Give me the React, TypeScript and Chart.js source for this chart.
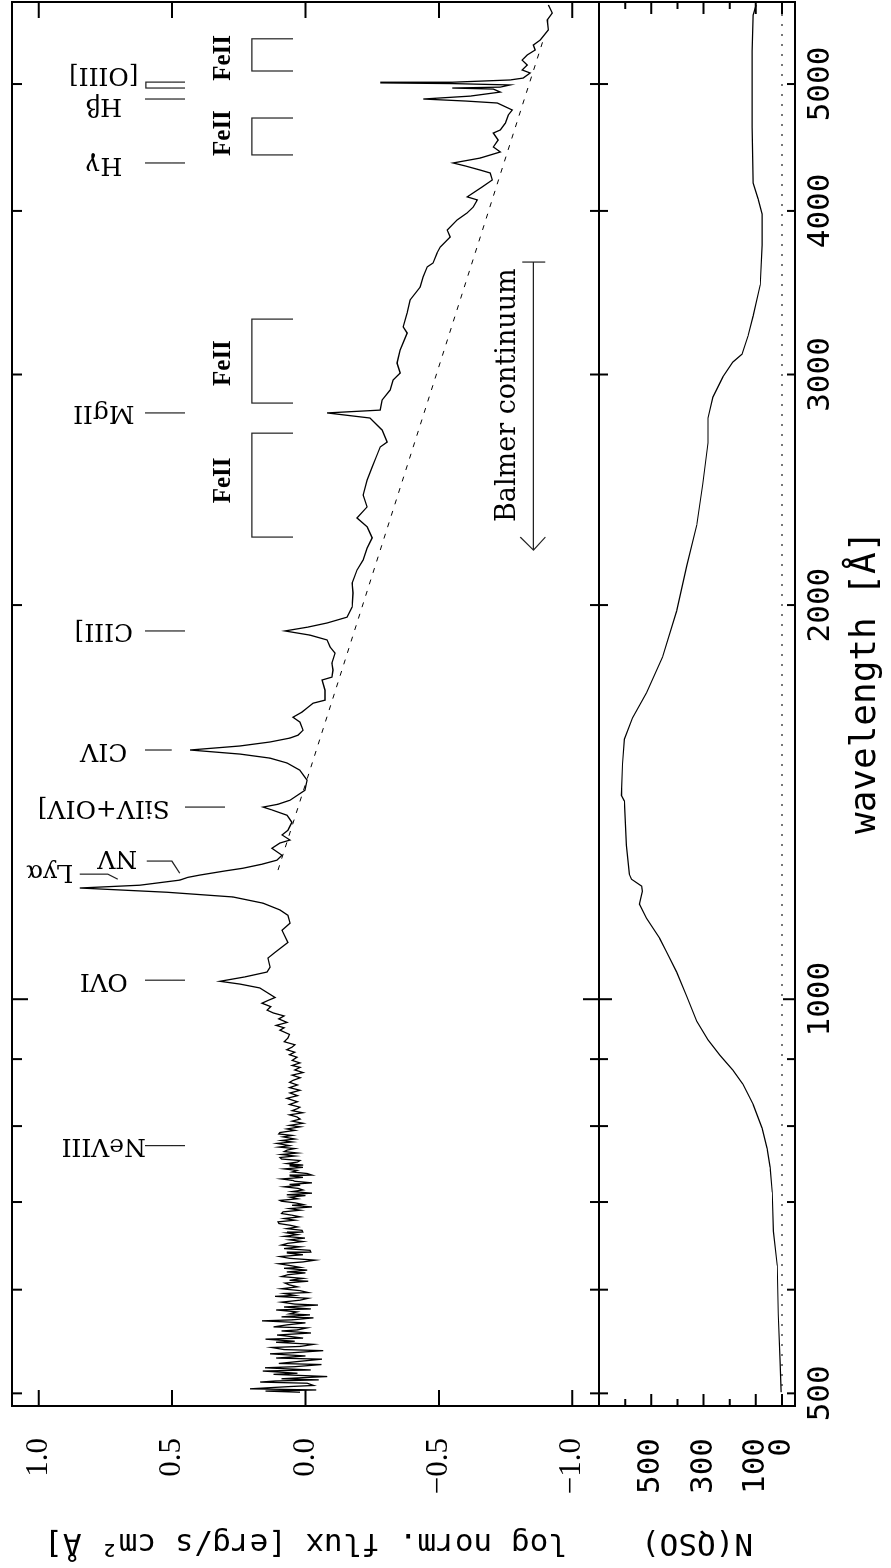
import React, { useEffect, useRef } from 'react';
import { Chart, registerables } from 'chart.js';

Chart.register(...registerables);

const W = 1568;
const H = 891;

// ---------- data: composite QSO spectrum ----------
const SPEC_WAVE = [501, 502, 503, 504, 506, 507, 509, 510, 511, 512, 513, 514, 515, 517, 518, 520, 521, 523, 524, 526, 527, 529, 531, 532, 534, 536, 537, 539, 540, 542, 543, 545, 547, 548, 550, 551, 553, 554, 556, 558, 559, 561, 562, 564, 566, 568, 569, 571, 572, 574, 575, 577, 579, 580, 582, 584, 585, 587, 589, 591, 593, 594, 596, 597, 599, 601, 603, 605, 607, 609, 610, 612, 614, 616, 618, 619, 621, 623, 624, 626, 628, 630, 632, 634, 636, 638, 640, 641, 643, 645, 647, 649, 651, 653, 655, 657, 659, 661, 663, 664, 666, 668, 670, 672, 674, 676, 678, 680, 682, 684, 686, 688, 690, 692, 694, 696, 697, 699, 701, 702, 704, 706, 708, 709, 711, 713, 715, 717, 719, 721, 722, 724, 726, 727, 729, 731, 733, 734, 736, 738, 740, 742, 744, 746, 747, 749, 751, 753, 755, 757, 759, 761, 763, 765, 767, 769, 771, 773, 776, 778, 780, 782, 785, 787, 789, 791, 794, 796, 799, 801, 804, 807, 810, 813, 816, 819, 822, 825, 827, 831, 835, 840, 844, 848, 852, 856, 860, 864, 867, 871, 875, 879, 883, 887, 890, 894, 898, 903, 907, 911, 915, 919, 923, 928, 934, 940, 947, 951, 955, 960, 966, 971, 976, 981, 987, 993, 998, 1003, 1020, 1027, 1032, 1040, 1049, 1058, 1075, 1086, 1105, 1129, 1143, 1159, 1170, 1184, 1197, 1207, 1216, 1222, 1233, 1239, 1244, 1253, 1259, 1268, 1277, 1288, 1304, 1316, 1323, 1335, 1346, 1365, 1382, 1395, 1402, 1409, 1419, 1444, 1470, 1496, 1515, 1528, 1539, 1550, 1561, 1572, 1583, 1591, 1605, 1628, 1642, 1657, 1669, 1683, 1692, 1722, 1753, 1762, 1784, 1806, 1838, 1858, 1881, 1897, 1911, 1924, 1938, 1958, 1993, 2043, 2079, 2127, 2165, 2211, 2251, 2295, 2331, 2377, 2427, 2492, 2549, 2604, 2641, 2664, 2721, 2779, 2804, 2818, 2868, 2919, 2971, 3008, 3061, 3132, 3227, 3262, 3343, 3420, 3499, 3562, 3625, 3650, 3715, 3754, 3821, 3868, 3937, 3986, 4028, 4078, 4100, 4172, 4224, 4276, 4298, 4329, 4352, 4390, 4437, 4476, 4531, 4587, 4612, 4668, 4735, 4777, 4836, 4853, 4870, 4895, 4930, 4956, 4965, 4973, 4992, 5004, 5010, 5016, 5036, 5053, 5098, 5125, 5170, 5215, 5262, 5309, 5355, 5403, 5499, 5596, 5665, 5746];
const SPEC_FLUX = [0.021, 0.150, -0.040, 0.208, 0.060, -0.030, -0.006, 0.170, 0.114, -0.050, 0.090, 0.010, -0.081, 0.120, 0.030, 0.160, -0.020, 0.152, 0.040, -0.060, 0.100, 0.020, -0.062, 0.110, 0.000, 0.133, 0.050, -0.066, 0.080, 0.126, 0.020, -0.030, 0.110, 0.040, 0.150, 0.009, 0.070, 0.107, -0.020, 0.090, 0.030, -0.006, 0.120, 0.069, 0.000, 0.163, 0.050, -0.030, 0.090, -0.017, 0.060, 0.032, 0.110, -0.020, 0.080, -0.047, 0.040, 0.090, 0.021, -0.010, 0.114, 0.040, 0.080, -0.010, 0.021, 0.090, 0.030, 0.060, 0.077, -0.010, 0.060, 0.009, 0.090, 0.066, 0.000, 0.070, -0.006, 0.080, 0.020, 0.058, 0.100, 0.010, -0.036, 0.060, 0.096, 0.010, 0.070, -0.020, -0.017, 0.080, 0.020, 0.090, 0.066, 0.010, 0.060, 0.002, 0.080, 0.030, 0.069, 0.010, 0.013, 0.070, 0.030, 0.058, 0.100, 0.103, 0.040, 0.080, 0.020, 0.051, 0.090, 0.084, 0.020, 0.060, -0.024, 0.050, 0.010, 0.039, 0.090, 0.096, 0.030, 0.058, 0.000, 0.070, -0.024, 0.050, 0.010, 0.028, 0.080, 0.020, 0.060, -0.024, 0.040, 0.047, 0.090, 0.010, 0.060, -0.024, -0.006, 0.050, 0.032, 0.080, 0.010, 0.060, 0.009, 0.070, 0.030, 0.021, 0.090, 0.096, 0.040, 0.090, 0.030, 0.080, 0.069, 0.040, 0.100, 0.060, 0.107, 0.050, 0.090, 0.040, 0.084, 0.050, 0.100, 0.096, 0.040, 0.070, 0.020, 0.060, 0.009, 0.050, 0.020, 0.032, 0.060, 0.010, 0.050, 0.030, 0.021, 0.060, 0.030, 0.070, 0.030, 0.058, 0.021, 0.060, 0.030, 0.060, 0.047, 0.020, 0.050, 0.009, 0.040, 0.020, 0.050, 0.021, 0.050, 0.032, 0.060, 0.040, 0.070, 0.051, 0.040, 0.080, 0.066, 0.060, 0.096, 0.080, 0.110, 0.069, 0.100, 0.080, 0.120, 0.144, 0.130, 0.163, 0.140, 0.114, 0.171, 0.246, 0.321, 0.227, 0.144, 0.133, 0.141, 0.114, 0.066, 0.088, 0.058, 0.066, 0.096, 0.159, 0.272, 0.520, 0.846, 0.621, 0.471, 0.441, 0.396, 0.302, 0.235, 0.163, 0.107, 0.088, 0.126, 0.096, 0.058, 0.088, 0.066, 0.051, 0.069, 0.126, 0.159, 0.103, 0.058, 0.002, -0.006, 0.021, 0.069, 0.133, 0.246, 0.433, 0.246, 0.133, 0.058, 0.028, 0.009, 0.021, 0.047, 0.013, -0.006, -0.028, -0.073, -0.073, -0.062, -0.099, -0.103, -0.099, -0.111, -0.092, -0.081, -0.017, 0.077, -0.009, -0.081, -0.156, -0.175, -0.178, -0.175, -0.193, -0.216, -0.231, -0.250, -0.231, -0.193, -0.231, -0.216, -0.231, -0.250, -0.268, -0.280, -0.306, -0.287, -0.242, -0.081, -0.280, -0.287, -0.317, -0.328, -0.355, -0.343, -0.355, -0.381, -0.366, -0.381, -0.392, -0.430, -0.441, -0.456, -0.478, -0.493, -0.505, -0.542, -0.531, -0.568, -0.606, -0.629, -0.644, -0.606, -0.662, -0.700, -0.692, -0.655, -0.599, -0.553, -0.655, -0.730, -0.704, -0.722, -0.704, -0.730, -0.749, -0.760, -0.775, -0.719, -0.599, -0.441, -0.617, -0.730, -0.704, -0.550, -0.730, -0.767, -0.550, -0.280, -0.550, -0.767, -0.816, -0.842, -0.812, -0.831, -0.812, -0.831, -0.861, -0.854, -0.880, -0.910, -0.906, -0.925, -0.910];

// power-law continuum (dashed)
const CONT_WAVE = [1255, 5403];
const CONT_FLUX = [0.103, -0.891];

// number of QSOs contributing
const NQSO_WAVE = [501, 528, 575, 626, 665, 712, 744, 769, 797, 831, 861, 883, 906, 931, 962, 1005, 1049, 1086, 1113, 1153, 1182, 1209, 1220, 1235, 1246, 1311, 1417, 1431, 1512, 1580, 1640, 1714, 1825, 1979, 2145, 2302, 2474, 2660, 2779, 2883, 2987, 3066, 3109, 3210, 3325, 3513, 3767, 3978, 4085, 4201, 4636, 5017, 5299, 5645, 5746];
const NQSO_COUNT = [3, 7, 14, 18, 33, 37, 45, 57, 76, 110, 149, 188, 237, 283, 326, 364, 403, 441, 468, 518, 545, 534, 537, 576, 584, 595, 603, 614, 610, 603, 572, 518, 457, 403, 364, 326, 303, 283, 283, 264, 226, 188, 153, 130, 110, 83, 76, 76, 91, 110, 114, 114, 114, 110, 99];

// axes
const WAVE_MIN = 489;
const WAVE_MAX = 5776;
const WAVE_TICKS = [500, 600, 700, 800, 900, 1000, 2000, 3000, 4000, 5000];
const WAVE_LABELED = [500, 1000, 2000, 3000, 4000, 5000];
const FLUX_TICKS = [-1.0, -0.5, 0.0, 0.5, 1.0];
const N_TICKS = [0, 100, 200, 300, 400, 500, 600];
const N_LABELED = [0, 100, 300, 500];

// emission line identifications
const LINE_NAMES = ['NeVIII', 'OVI', 'SiIV+OIV]', 'CIV', 'CIII]', 'MgII', 'Hγ', 'Hβ', '[OIII]'];
const LINE_TEXT_WAVE = [773, 1034, 1402, 1550, 1911, 2804, 4340, 4819, 5089];
const LINE_MARK_WAVE = [773, 1034, 1402, 1550, 1911, 2804, 4352, 4870];
const LINE_MARK_HI = [0.602, 0.602, 0.452, 0.602, 0.602, 0.602, 0.602, 0.602];
const LINE_MARK_LO = [0.452, 0.452, 0.302, 0.501, 0.452, 0.452, 0.452, 0.452];
const OIII_WAVES = [4965, 5017];
const LYA_TEXT = { wave: 1251, flux: 0.959 };
const LYA_PATH_WAVE = [1246, 1246, 1235];
const LYA_PATH_FLUX = [0.846, 0.741, 0.704];
const NV_TEXT = { wave: 1282, flux: 0.705 };
const NV_PATH_WAVE = [1275, 1275, 1248];
const NV_PATH_FLUX = [0.595, 0.501, 0.471];

// FeII blends
const FE_FROM = [2254, 2853, 4414, 5116];
const FE_TO = [2706, 3307, 4710, 5414];
const FE_TEXT_WAVE = [2490, 3061, 4587, 5235];

// Balmer continuum arrow
const BALMER_EDGE = 3656;
const BALMER_TIP = 2203;
const BALMER_HEAD = 2254;
const BALMER_TEXT_WAVE = 2893;

const LABEL_FLUX = 0.756;
const FE_TOP = 0.201;
const FE_LEG = 0.047;
const FE_TEXT_FLUX = 0.306;
const BALMER_FLUX = -0.854;
const BALMER_TEXT_FLUX = -0.758;

const MONO = "'DejaVu Sans Mono'";

const pts = (xs: number[], ys: number[]) => xs.map((x, i) => ({ x, y: ys[i] }));

const mainPlugin = {
  id: 'mainDecor',
  afterDatasetsDraw(chart: any) {
    const { ctx, chartArea: a } = chart;
    const X = (v: number) => chart.scales.x.getPixelForValue(v);
    const Y = (v: number) => chart.scales.y.getPixelForValue(v);
    ctx.save();
    ctx.strokeStyle = '#000';
    ctx.lineWidth = 2;
    ctx.strokeRect(a.left, a.top, a.right - a.left, a.bottom - a.top);
    ctx.beginPath();
    WAVE_TICKS.forEach((v) => {
      const x = X(v);
      const l1 = v === 1000 ? 16 : 10;
      const l2 = v === 1000 ? 16 : 9;
      ctx.moveTo(x, a.top);
      ctx.lineTo(x, a.top + l1);
      ctx.moveTo(x, a.bottom);
      ctx.lineTo(x, a.bottom - l2);
    });
    FLUX_TICKS.forEach((v) => {
      const y = Y(v);
      ctx.moveTo(a.left, y);
      ctx.lineTo(a.left + 16, y);
      ctx.moveTo(a.right, y);
      ctx.lineTo(a.right - 16, y);
    });
    ctx.stroke();

    // annotation lines
    ctx.lineWidth = 1.2;
    ctx.strokeStyle = '#222';
    ctx.beginPath();
    LINE_MARK_WAVE.forEach((w, i) => {
      ctx.moveTo(X(w), Y(LINE_MARK_HI[i]));
      ctx.lineTo(X(w), Y(LINE_MARK_LO[i]));
    });
    // [OIII] doublet
    ctx.moveTo(X(OIII_WAVES[0]), Y(0.452));
    ctx.lineTo(X(OIII_WAVES[0]), Y(0.598));
    ctx.lineTo(X(OIII_WAVES[1]), Y(0.598));
    ctx.lineTo(X(OIII_WAVES[1]), Y(0.452));
    // Lya and NV connectors
    [[LYA_PATH_WAVE, LYA_PATH_FLUX], [NV_PATH_WAVE, NV_PATH_FLUX]].forEach(([ws, fs]) => {
      ws.forEach((w: number, i: number) => {
        if (i === 0) ctx.moveTo(X(w), Y(fs[i]));
        else ctx.lineTo(X(w), Y(fs[i]));
      });
    });
    // FeII brackets
    FE_FROM.forEach((w, i) => {
      ctx.moveTo(X(w), Y(FE_LEG));
      ctx.lineTo(X(w), Y(FE_TOP));
      ctx.lineTo(X(FE_TO[i]), Y(FE_TOP));
      ctx.lineTo(X(FE_TO[i]), Y(FE_LEG));
    });
    // Balmer arrow
    ctx.moveTo(X(BALMER_EDGE), Y(-0.812));
    ctx.lineTo(X(BALMER_EDGE), Y(-0.899));
    ctx.moveTo(X(BALMER_EDGE), Y(BALMER_FLUX));
    ctx.lineTo(X(BALMER_TIP), Y(BALMER_FLUX));
    ctx.moveTo(X(BALMER_HEAD), Y(-0.805));
    ctx.lineTo(X(BALMER_TIP), Y(BALMER_FLUX));
    ctx.lineTo(X(BALMER_HEAD), Y(-0.899));
    ctx.stroke();

    // texts
    ctx.fillStyle = '#000';
    const vText = (t: string, x: number, y: number, font: string) => {
      ctx.save();
      ctx.translate(x, y);
      ctx.rotate(-Math.PI / 2);
      ctx.font = font;
      ctx.textAlign = 'center';
      ctx.textBaseline = 'middle';
      ctx.fillText(t, 0, 0);
      ctx.restore();
    };
    const lf = "25px 'DejaVu Serif'";
    LINE_NAMES.forEach((n, i) => vText(n, X(LINE_TEXT_WAVE[i]), Y(LABEL_FLUX), lf));
    vText('Lyα', X(LYA_TEXT.wave), Y(LYA_TEXT.flux), lf);
    vText('NV', X(NV_TEXT.wave), Y(NV_TEXT.flux), lf);

    ctx.textAlign = 'center';
    ctx.textBaseline = 'middle';
    ctx.font = "bold 25px 'Liberation Serif'";
    FE_TEXT_WAVE.forEach((w) => ctx.fillText('FeII', X(w), Y(FE_TEXT_FLUX)));
    ctx.font = "27px 'DejaVu Serif'";
    ctx.fillText('Balmer continuum', X(BALMER_TEXT_WAVE), Y(BALMER_TEXT_FLUX));
    ctx.restore();
  },
};

const lowPlugin = {
  id: 'lowDecor',
  afterDatasetsDraw(chart: any) {
    const { ctx, chartArea: a } = chart;
    const X = (v: number) => chart.scales.x.getPixelForValue(v);
    const Y = (v: number) => chart.scales.y.getPixelForValue(v);
    ctx.save();
    ctx.strokeStyle = '#000';
    ctx.lineWidth = 2;
    ctx.strokeRect(a.left, a.top, a.right - a.left, a.bottom - a.top);
    ctx.beginPath();
    WAVE_TICKS.forEach((v) => {
      const x = X(v);
      const l1 = v === 1000 ? 13 : 9;
      const l2 = v === 1000 ? 12 : 8;
      ctx.moveTo(x, a.top);
      ctx.lineTo(x, a.top + l1);
      ctx.moveTo(x, a.bottom);
      ctx.lineTo(x, a.bottom - l2);
    });
    N_TICKS.forEach((v) => {
      const y = Y(v);
      const l = N_LABELED.includes(v) ? 12 : 7;
      ctx.moveTo(a.left, y);
      ctx.lineTo(a.left + l, y);
      ctx.moveTo(a.right, y);
      ctx.lineTo(a.right - l, y);
    });
    ctx.stroke();
    ctx.restore();
  },
};

const fmtFlux = (v: number) => (v < 0 ? '\u2212' + Math.abs(v).toFixed(1) : v.toFixed(1));

const fixVertical = (s: any) => {
  s.width = 162;
  s.paddingTop = 0;
  s.paddingBottom = 0;
};

export default function App() {
  const mainRef = useRef<HTMLCanvasElement>(null);
  const lowRef = useRef<HTMLCanvasElement>(null);

  useEffect(() => {
    const main = new Chart(mainRef.current as HTMLCanvasElement, {
      type: 'line',
      data: {
        datasets: [
          {
            data: pts(SPEC_WAVE, SPEC_FLUX),
            borderColor: '#000',
            borderWidth: 1.3,
            pointRadius: 0,
            tension: 0,
          },
          {
            data: pts(CONT_WAVE, CONT_FLUX),
            borderColor: '#000',
            borderWidth: 1,
            borderDash: [5, 7],
            pointRadius: 0,
          },
        ],
      },
      options: {
        responsive: false,
        animation: false,
        devicePixelRatio: 1,
        events: [],
        layout: { padding: { left: 0, top: 12, right: 2, bottom: H - 599 } },
        plugins: { legend: { display: false }, tooltip: { enabled: false } },
        scales: {
          x: {
            type: 'logarithmic',
            min: WAVE_MIN,
            max: WAVE_MAX,
            display: false,
          },
          y: {
            type: 'linear',
            min: -1.1,
            max: 1.1,
            position: 'left',
            afterBuildTicks: (s: any) => {
              s.ticks = FLUX_TICKS.map((v) => ({ value: v }));
            },
            afterFit: fixVertical,
            grid: { display: false, drawTicks: false },
            border: { display: false },
            ticks: {
              autoSkip: false,
              padding: 32,
              color: '#000',
              font: { family: "'Liberation Serif'", size: 31 },
              callback: (v: any) => fmtFlux(Number(v)),
            },
            title: {
              display: true,
              text: 'log norm. flux [erg/s cm² Å]',
              color: '#000',
              font: { family: MONO, size: 31 },
              padding: { top: 7, bottom: 0 },
            },
          },
        },
      },
      plugins: [mainPlugin],
    } as any);

    const low = new Chart(lowRef.current as HTMLCanvasElement, {
      type: 'line',
      data: {
        datasets: [
          {
            data: pts(NQSO_WAVE, NQSO_COUNT),
            borderColor: '#000',
            borderWidth: 1.2,
            pointRadius: 0,
            tension: 0,
          },
          {
            data: [
              { x: WAVE_MIN, y: 0 },
              { x: WAVE_MAX, y: 0 },
            ],
            borderColor: '#777',
            borderWidth: 2,
            borderDash: [2, 8],
            pointRadius: 0,
          },
        ],
      },
      options: {
        responsive: false,
        animation: false,
        devicePixelRatio: 1,
        events: [],
        layout: { padding: { left: 0, top: 599, right: 2, bottom: 0 } },
        plugins: { legend: { display: false }, tooltip: { enabled: false } },
        scales: {
          x: {
            type: 'logarithmic',
            min: WAVE_MIN,
            max: WAVE_MAX,
            position: 'bottom',
            afterBuildTicks: (s: any) => {
              s.ticks = WAVE_TICKS.map((v) => ({ value: v }));
            },
            afterFit: (s: any) => {
              s.height = H - 795;
              s.paddingLeft = 0;
              s.paddingRight = 0;
            },
            grid: { display: false, drawTicks: false },
            border: { display: false },
            ticks: {
              autoSkip: false,
              maxRotation: 0,
              minRotation: 0,
              padding: 7,
              color: '#000',
              font: { family: MONO, size: 31 },
              callback: (v: any) => (WAVE_LABELED.includes(Number(v)) ? String(v) : ''),
            },
            title: {
              display: true,
              text: '  wavelength [Å]',
              color: '#000',
              font: { family: MONO, size: 36 },
              padding: { top: 0, bottom: 4 },
            },
          },
          y: {
            type: 'linear',
            min: -50,
            max: 700,
            position: 'left',
            afterBuildTicks: (s: any) => {
              s.ticks = N_TICKS.map((v) => ({ value: v }));
            },
            afterFit: fixVertical,
            grid: { display: false, drawTicks: false },
            border: { display: false },
            ticks: {
              autoSkip: false,
              padding: 32,
              color: '#000',
              font: { family: MONO, size: 31 },
              callback: (v: any) => (N_LABELED.includes(Number(v)) ? String(v) : ''),
            },
            title: {
              display: true,
              text: 'N(QSO)',
              color: '#000',
              font: { family: MONO, size: 31 },
              padding: { top: 7, bottom: 0 },
            },
          },
        },
      },
      plugins: [lowPlugin],
    } as any);

    return () => {
      main.destroy();
      low.destroy();
    };
  }, []);

  return (
    <div
      style={{
        position: 'absolute',
        left: 0,
        top: 0,
        width: H,
        height: W,
        overflow: 'hidden',
        background: '#fff',
      }}
    >
      <div
        style={{
          position: 'absolute',
          left: 0,
          top: 0,
          width: W,
          height: H,
          transformOrigin: '0 0',
          transform: `translate(0px, ${W}px) rotate(-90deg)`,
        }}
      >
        <canvas
          ref={mainRef}
          width={W}
          height={H}
          style={{ position: 'absolute', left: 0, top: 0, width: W, height: H }}
        />
        <canvas
          ref={lowRef}
          width={W}
          height={H}
          style={{ position: 'absolute', left: 0, top: 0, width: W, height: H }}
        />
      </div>
    </div>
  );
}
